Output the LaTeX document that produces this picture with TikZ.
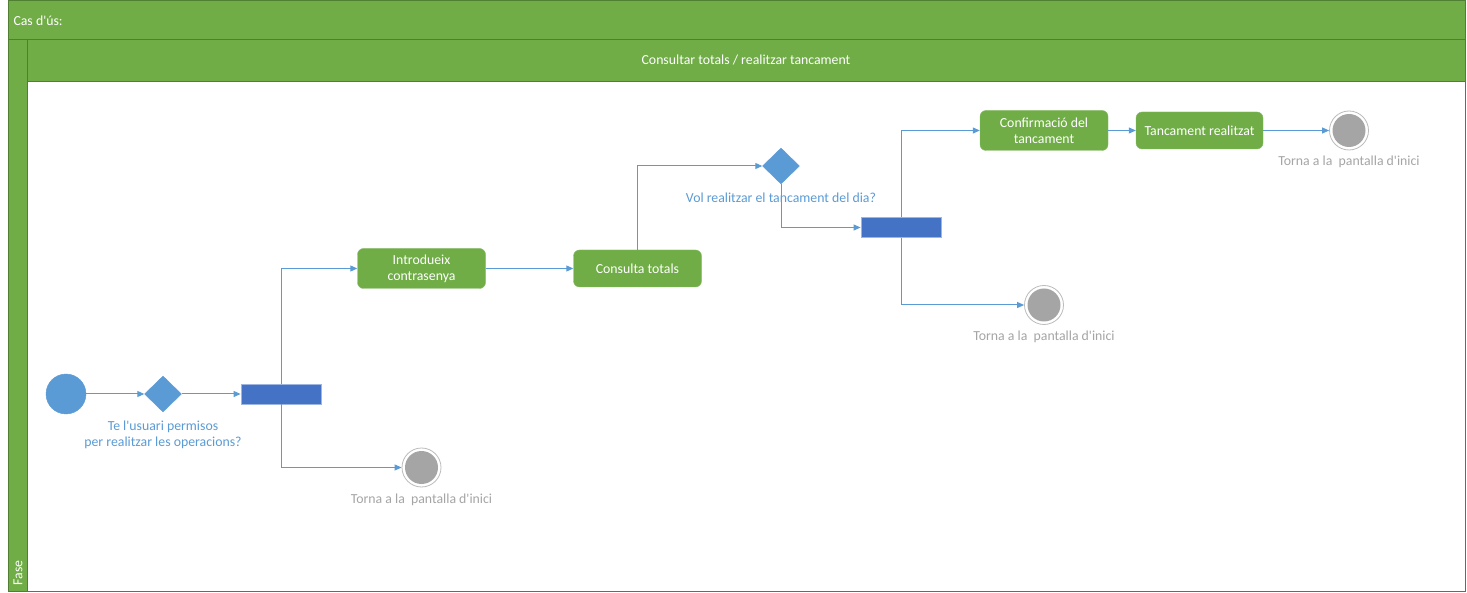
\documentclass[tikz,border=0pt]{standalone}
\usepackage{fontspec}
\setmainfont{Carlito}[Ligatures=TeXOff]
\usetikzlibrary{shapes.geometric,arrows.meta}
\definecolor{lanegreen}{HTML}{70AD47}
\definecolor{laneborder}{HTML}{507E32}
\definecolor{flowblue}{HTML}{5B9BD5}
\definecolor{barblue}{HTML}{4472C4}
\definecolor{barborder}{HTML}{9DB5E0}
\definecolor{endgrey}{HTML}{A5A5A5}
\tikzset{
  actbox/.style={rectangle, rounded corners=6pt, fill=lanegreen, draw=lanegreen!85!white, text=white, minimum width=128pt, minimum height=40pt, align=center, font=\fontsize{13.8}{16}\selectfont, inner sep=2pt},
  decis/.style={diamond, fill=flowblue, draw=flowblue, minimum width=37pt, minimum height=36pt, inner sep=0pt},
  forkbar/.style={rectangle, fill=barblue, draw=barborder, line width=0.8pt, minimum width=80pt, minimum height=20pt, inner sep=0pt},
  startdot/.style={circle, fill=flowblue, draw=flowblue, minimum size=40pt, inner sep=0pt},
  enddot/.style={circle, fill=white, draw=endgrey!75!white, line width=0.8pt, minimum size=39pt, inner sep=0pt, path picture={\fill[endgrey] (path picture bounding box.center) circle (16.5pt);}},
  flow/.style={draw=flowblue, line width=1pt, -{Triangle[length=7pt,width=6pt]}},
  qlabel/.style={text=flowblue, font=\fontsize{13.8}{15.5}\selectfont, align=center},
  glabel/.style={text=endgrey, font=\fontsize{13.8}{16}\selectfont},
  hdrtext/.style={text=white, font=\fontsize{13.8}{16}\selectfont}
}
\begin{document}
\begin{tikzpicture}[x=1pt,y=-1pt]
\useasboundingbox (0,0) rectangle (1467,593);
% frame
\fill[white] (0,0) rectangle (1467,593);
\draw[laneborder, fill=lanegreen, line width=1pt] (8,1) rectangle (1465,40);
\draw[laneborder, fill=lanegreen, line width=1pt] (8,40) rectangle (27,591);
\draw[laneborder, fill=lanegreen, line width=1pt] (27,40) rectangle (1465,82);
\draw[laneborder, line width=1pt] (27,82) rectangle (1465,591);
\node[hdrtext, anchor=west] (cas) at (10,21) {Cas d'ús:};
\node[hdrtext] (lane) at (746,60.5) {Consultar totals / realitzar tancament};
\node[hdrtext, rotate=90, anchor=west] (fase) at (18,589) {Fase};
% nodes
\node[startdot] (start) at (66,394) {};
\node[decis] (d1) at (163,394) {};
\node[qlabel] (d1l) at (163,435) {Te l'usuari permisos\\per realitzar les operacions?};
\node[forkbar] (b1) at (281,394) {};
\node[enddot] (e1) at (421.5,467.5) {};
\node[glabel] (e1l) at (421.5,500) {Torna a la\ \ pantalla d'inici};
\node[actbox] (intro) at (421.5,268.5) {Introdueix\\contrasenya};
\node[actbox, minimum height=37pt] (cons) at (637.5,268.5) {Consulta totals};
\node[decis] (d2) at (781,166) {};
\node[qlabel] (d2l) at (781,198) {Vol realitzar el tancament del dia?};
\node[forkbar] (b2) at (901,227.5) {};
\node[enddot] (e2) at (1044,305) {};
\node[glabel] (e2l) at (1044,337) {Torna a la\ \ pantalla d'inici};
\node[actbox] (conf) at (1044,130.5) {Confirmació del\\tancament};
\node[actbox, minimum height=37pt, minimum width=127pt] (tanc) at (1199.5,130.5) {Tancament realitzat};
\node[enddot] (e3) at (1349,130.5) {};
\node[glabel] (e3l) at (1349,162) {Torna a la\ \ pantalla d'inici};
% connectors
\draw[flow] (start) -- (d1);
\draw[flow] (d1) -- (b1);
\draw[flow] (b1.north) |- (intro.west);
\draw[flow] (b1.south) |- (e1.west);
\draw[flow] (intro) -- (cons);
\draw[flow] (cons.north) |- (d2.west);
\draw[flow] (d2.south) |- (b2.west);
\draw[flow] (b2.north) |- (conf.west);
\draw[flow] (b2.south) |- (e2.west);
\draw[flow] (conf) -- (tanc);
\draw[flow] (tanc) -- (e3);
\end{tikzpicture}
\end{document}
